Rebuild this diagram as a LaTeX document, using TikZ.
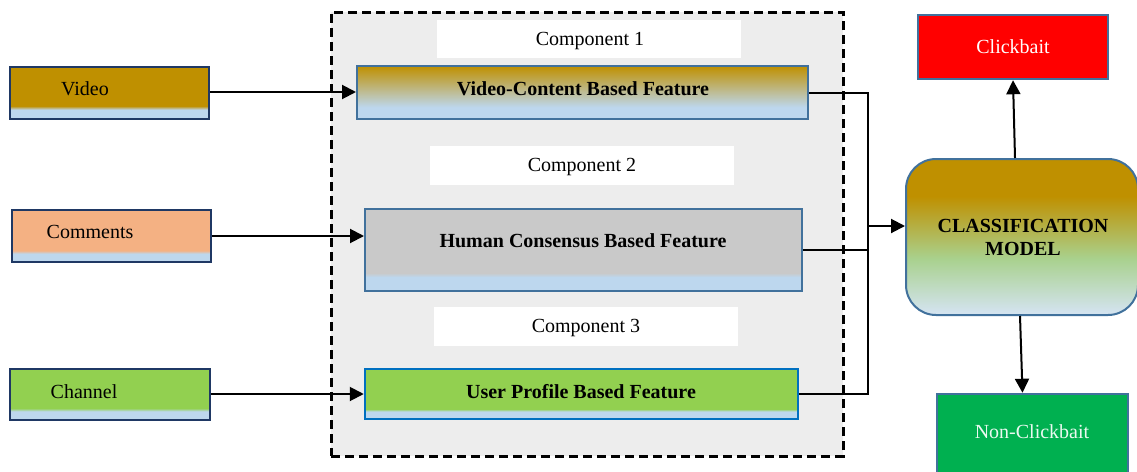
\documentclass[tikz,border=0pt]{standalone}
\usepackage{fontspec}
\setmainfont{Liberation Serif}
\usetikzlibrary{fit,calc,arrows.meta}
\definecolor{gold}{HTML}{BF9000}
\definecolor{lb}{HTML}{BDD7EE}
\definecolor{salmon}{HTML}{F4B183}
\definecolor{lgreen}{HTML}{92D050}
\definecolor{hgray}{HTML}{C9C9C9}
\definecolor{cgreen}{HTML}{A9D18E}
\definecolor{cblue}{HTML}{D3E3EE}
\definecolor{navy}{HTML}{1F3864}
\definecolor{bgray}{HTML}{41719C}
\definecolor{ublue}{HTML}{0070C0}
\definecolor{bggray}{HTML}{EDEDED}
\definecolor{ncgreen}{HTML}{00B050}
\pgfdeclareverticalshading{goldstrip}{100bp}{color(0bp)=(lb); color(34bp)=(lb); color(37.5bp)=(gold); color(100bp)=(gold)}
\pgfdeclareverticalshading{salmonstrip}{100bp}{color(0bp)=(lb); color(33bp)=(lb); color(36bp)=(salmon); color(100bp)=(salmon)}
\pgfdeclareverticalshading{greenstrip}{100bp}{color(0bp)=(lb); color(33.5bp)=(lb); color(36.5bp)=(lgreen); color(100bp)=(lgreen)}
\pgfdeclareverticalshading{upstrip}{100bp}{color(0bp)=(lb); color(32.5bp)=(lb); color(35bp)=(lgreen); color(100bp)=(lgreen)}
\pgfdeclareverticalshading{graystrip}{100bp}{color(0bp)=(lb); color(33.5bp)=(lb); color(36bp)=(hgray); color(100bp)=(hgray)}
\pgfdeclareverticalshading{vcgrad}{100bp}{color(0bp)=(lb); color(36bp)=(lb); color(75bp)=(gold); color(100bp)=(gold)}
\pgfdeclareverticalshading{cmgrad}{100bp}{color(0bp)=(cblue); color(26bp)=(cblue); color(43bp)=(cgreen); color(63bp)=(gold); color(100bp)=(gold)}
\begin{document}
\begin{tikzpicture}[x=1pt,y=-1pt,
  every node/.style={font=\fontsize{20}{23}\selectfont},
  rbox/.style={fit={#1}, inner sep=0pt},
  inbox/.style={draw=navy, line width=2pt},
  featbox/.style={draw=bgray, line width=2pt},
  compbox/.style={fill=white, inner sep=0pt},
  lbl/.style={inner sep=0pt, text=black},
  blbl/.style={inner sep=0pt, font=\fontsize{20}{23}\selectfont\bfseries, text=black},
  arr/.style={line width=2pt, -{Triangle[length=14pt,width=14pt]}},
  conn/.style={line width=2pt}
]
\useasboundingbox (0,0) rectangle (1137,471);
\clip (0,0) rectangle (1137,471);

% container
\node[rbox={(331,12) (843,456)}, fill=bggray, draw=black, line width=3pt, dash pattern=on 9pt off 5pt] (cont) {};

% component labels
\node[rbox={(437,20) (741,58)}, compbox] (c1) {};
\node[lbl] (c1t) at (590,41) {Component 1};
\node[rbox={(430,146) (734,185)}, compbox] (c2) {};
\node[lbl] (c2t) at (582,167) {Component 2};
\node[rbox={(434,307) (738,346)}, compbox] (c3) {};
\node[lbl] (c3t) at (586,328) {Component 3};

% input boxes
\node[rbox={(10,67) (209,119)}, inbox, shading=goldstrip] (video) {};
\node[lbl] (videot) at (85,89) {Video};
\node[rbox={(12,210) (211,262)}, inbox, shading=salmonstrip] (comments) {};
\node[lbl] (commentst) at (90,232) {Comments};
\node[rbox={(10,369) (210,420)}, inbox, shading=greenstrip] (channel) {};
\node[lbl] (channelt) at (84,392) {Channel};

% feature boxes
\node[rbox={(357,66) (808,119)}, featbox, shading=vcgrad] (vcf) {};
\node[blbl] (vcft) at (583,89) {Video-Content Based Feature};
\node[rbox={(365,209) (802,291)}, featbox, shading=graystrip] (hcf) {};
\node[blbl] (hcft) at (583,241) {Human Consensus Based Feature};
\node[rbox={(365,369) (798,419)}, draw=ublue, line width=2.5pt, shading=upstrip] (upf) {};
\node[blbl] (upft) at (581,392) {User Profile Based Feature};

% classification model
\node[rbox={(906,159) (1138,315)}, draw=bgray, line width=2pt, rounded corners=30pt, shading=cmgrad] (cm) {};
\node[blbl, align=center, font=\fontsize{20}{23}\selectfont\bfseries] (cmt) at (1023,237) {CLASSIFICATION\\MODEL};

% outputs
\node[rbox={(918,15) (1108,79)}, fill=red, draw=bgray, line width=2.5pt] (cb) {};
\node[lbl, text=white] (cbt) at (1013,47) {Clickbait};
\node[rbox={(937,394) (1128,474)}, fill=ncgreen, draw=bgray, line width=2.5pt] (nc) {};
\node[lbl, text=white!92!ncgreen] (nct) at (1032,432) {Non-Clickbait};

% input arrows
\draw[arr] (video.east |- 0,92) -- (vcf.west |- 0,92);
\draw[arr] (comments.east |- 0,236) -- (hcf.west |- 0,236);
\draw[arr] (channel.east |- 0,394) -- (upf.west |- 0,394);

% bus
\coordinate (bus) at (868,0);
\draw[conn] (vcf.east) -- (vcf.east -| bus) -- (upf.east -| bus) -- (upf.east);
\draw[conn] (hcf.east) -- (hcf.east -| bus);
\coordinate (busmid) at (868,226);
\draw[arr] (busmid) -- (busmid -| cm.west);

% output arrows
\draw[arr] ($(cm.north)+(-7,0)$) -- (cb.south);
\draw[arr] ($(cm.south)+(-2,0)$) -- ($(nc.north)+(-10,0)$);
\end{tikzpicture}
\end{document}
